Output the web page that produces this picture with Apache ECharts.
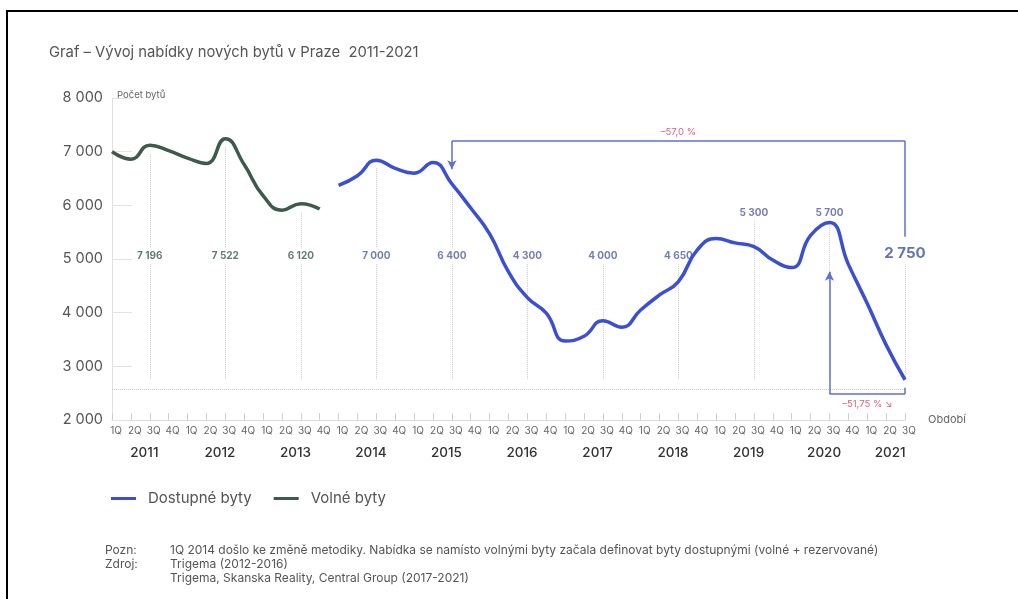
<!DOCTYPE html>
<html>
<head>
<meta charset="UTF-8">
<title>Vývoj nabídky nových bytů v Praze</title>
<script src="https://cdn.jsdelivr.net/npm/echarts@6/dist/echarts.min.js"></script>
<style>
    html, body { margin: 0; padding: 0; background: #fff; }
    #chart { width: 1018px; height: 599px; }
    .frame {
        position: absolute; left: 6px; top: 10px; width: 1012px; height: 589px;
        border-top: 2px solid #000; border-left: 2px solid #000; pointer-events: none;
    }
</style>
</head>
<body>
<div id="chart"></div>
<div class="frame"></div>
<script>
    // data
    var years = ['2011', '2012', '2013', '2014', '2015', '2016', '2017', '2018', '2019', '2020', '2021'];
    var quarterNames = ['1Q', '2Q', '3Q', '4Q'];
    var lastYearQuarters = 3;

    // Volné byty, 1Q 2011 - 4Q 2013
    var volneByty = [7000, 6860, 7120, 7020, 6880, 6780, 7240, 6760, 6180, 5910, 6030, 5930];
    // Dostupné byty, 1Q 2014 - 3Q 2021
    var dostupneByty = [6370, 6550, 6840, 6690, 6600, 6800, 6400, 5950, 5470, 4760,
        4280, 3990, 3470, 3560, 3850, 3730, 4050, 4330, 4580, 5170,
        5380, 5300, 5230, 4980, 4840, 5440, 5680, 4900, 4170, 3400, 2750];

    // values printed at each year (3Q)
    var yearValues = [7196, 7522, 6120, 7000, 6400, 4300, 4000, 4650, 5300, 5700, 2750];

    var changeTotal = '–57,0 %';
    var changeLast = '–51,75 % ↘';

    var FONT = 'Inter, "Noto Sans", sans-serif';
    var BLUE = '#3a4fd4';
    var GREEN = '#3d5b4c';
    var BRACKET = '#5c70d6';
    var PINK = '#e2607a';

    var categories = [];
    years.forEach(function (y, yi) {
        var n = yi === years.length - 1 ? lastYearQuarters : 4;
        for (var q = 0; q < n; q++) categories.push(quarterNames[q] + ' ' + y);
    });

    var firstBlue = volneByty.length;
    var blueData = categories.map(function (c, i) { return i < firstBlue ? null : dostupneByty[i - firstBlue]; });
    var greenData = categories.map(function (c, i) { return i < firstBlue ? volneByty[i] : null; });

    function fmt(v) { return String(v).replace(/\B(?=(\d{3})+(?!\d))/g, ' '); }
    function valueAt(cat) {
        var i = categories.indexOf(cat);
        return i < firstBlue ? volneByty[i] : dostupneByty[i - firstBlue];
    }
    function quartersOf(year) {
        return categories.filter(function (c) { return c.split(' ')[1] === year; }).length;
    }

    // year labels + dotted guides
    var labelItems = [];
    var guides = [];
    years.forEach(function (y, yi) {
        var cat = '3Q ' + y;
        var isGreen = categories.indexOf(cat) < firstBlue;
        var last = yi === years.length - 1;
        var upper = (y === '2019' || y === '2020');
        var row = upper ? 5860 : (last ? 5110 : 5060);
        labelItems.push({
            value: [cat, row],
            label: {
                formatter: fmt(yearValues[yi]),
                color: isGreen ? GREEN : (last ? '#3d4fa6' : '#4f5ca8'),
                fontSize: last ? 15 : 10,
                fontWeight: 'bold'
            }
        });
        var top = Math.max(valueAt(cat) - 150, row);
        guides.push([{ coord: [cat, 2760] }, { coord: [cat, top] }]);
    });
    guides.push([{ coord: [categories[0], 2580] }, { coord: [categories[categories.length - 1], 2580] }]);

    var c15 = '3Q 2015', c20 = '3Q 2020', c21 = '3Q 2021';
    var brackets = [
        [{ coord: [c21, 5415] }, { coord: [c21, 7198] }],
        [{ coord: [c15, 7198], label: { show: true, formatter: changeTotal } }, { coord: [c21, 7198] }],
        [{ coord: [c15, 7198] }, { coord: [c15, 6671], symbol: 'arrow', symbolSize: [7, 9] }],
        [{ coord: [c20, 2484] }, { coord: [c20, 4763], symbol: 'arrow', symbolSize: [7, 9] }],
        [{ coord: [c20, 2484], label: { show: true, formatter: changeLast, position: 'insideMiddleBottom', distance: 5 } }, { coord: [c21, 2484] }],
        [{ coord: [c21, 2484] }, { coord: [c21, 2600] }]
    ];

    var chart = echarts.init(document.getElementById('chart'), null, {renderer: 'canvas'});

    var option = {
        animation: false,
        backgroundColor: '#fff',
        textStyle: { fontFamily: FONT },
        title: {
            text: 'Graf – Vývoj nabídky nových bytů v Praze  2011-2021',
            left: 44, top: 40,
            textStyle: { fontFamily: FONT, fontSize: 14.8, fontWeight: 'normal', color: '#555' }
        },
        legend: {
            data: ['Dostupné byty', 'Volné byty'],
            left: 106, top: 486,
            icon: 'rect', itemWidth: 25, itemHeight: 3, itemGap: 22,
            textStyle: { fontFamily: FONT, fontSize: 15, color: '#555', padding: [0, 0, 0, 7] }
        },
        grid: { left: 112, right: 113, top: 98, bottom: 179 },
        xAxis: {
            type: 'category',
            data: categories,
            boundaryGap: false,
            name: 'Období',
            nameLocation: 'end',
            nameGap: 23,
            nameTextStyle: { fontFamily: FONT, fontSize: 11, color: '#666' },
            axisLine: { lineStyle: { color: '#dcdcdc' } },
            axisTick: { inside: true, length: 7, interval: 0, lineStyle: { color: '#cfcfcf' } },
            splitLine: { show: false },
            axisLabel: {
                interval: 0,
                margin: 4,
                padding: [0, 0, 0, 8],
                formatter: function (val) {
                    var p = val.split(' ');
                    if (p[0] === '2Q') {
                        var full = quartersOf(p[1]) === 4;
                        return '{q|' + p[0] + '}\n{' + (full ? 'y' : 'y2') + '|' + p[1] + '}';
                    }
                    return '{q|' + p[0] + '}';
                },
                rich: {
                    q: { fontFamily: FONT, fontSize: 10, color: '#666', lineHeight: 14, align: 'center' },
                    y: { fontFamily: FONT, fontSize: 13.5, fontWeight: 500, color: '#333', lineHeight: 30, align: 'center', padding: [0, 0, 0, 19] },
                    y2: { fontFamily: FONT, fontSize: 13.5, fontWeight: 500, color: '#333', lineHeight: 30, align: 'center' }
                }
            }
        },
        yAxis: {
            type: 'value',
            min: 2000, max: 8000, interval: 1000,
            name: 'Počet bytů',
            nameLocation: 'end',
            nameGap: -2,
            nameTextStyle: { fontFamily: FONT, fontSize: 9.5, color: '#666', align: 'left', padding: [0, 0, 0, 5] },
            axisLine: { show: true, lineStyle: { color: '#e0e0e0' } },
            axisTick: { show: true, inside: true, length: 20, lineStyle: { color: '#e3e3e3' } },
            splitLine: { show: false },
            axisLabel: { margin: 9, fontFamily: FONT, fontSize: 14.5, color: '#555', formatter: fmt }
        },
        series: [
            {
                name: 'guides', type: 'line', data: [], z: 1, silent: true,
                markLine: {
                    z: 1, silent: true, symbol: ['none', 'none'],
                    label: { show: false },
                    lineStyle: { type: 'dotted', color: '#cacaca', width: 1 },
                    data: guides
                }
            },
            {
                name: 'labels', type: 'scatter', z: 3, silent: true,
                symbolSize: 1,
                itemStyle: { color: 'transparent' },
                label: {
                    show: true, position: 'inside', fontFamily: FONT,
                    backgroundColor: '#fff', padding: [3, 4]
                },
                data: labelItems
            },
            {
                name: 'Dostupné byty', type: 'line', data: blueData, z: 4,
                smooth: 0.5, symbol: 'none', showSymbol: false,
                color: BLUE, lineStyle: { color: BLUE, width: 3.5 }
            },
            {
                name: 'Volné byty', type: 'line', data: greenData, z: 4,
                smooth: 0.5, symbol: 'none', showSymbol: false,
                color: GREEN, lineStyle: { color: GREEN, width: 3.5 }
            },
            {
                name: 'brackets', type: 'line', data: [], z: 5, silent: true,
                markLine: {
                    z: 5, silent: true, symbol: ['none', 'none'],
                    lineStyle: { type: 'solid', color: BRACKET, width: 1.5 },
                    itemStyle: { color: BRACKET },
                    label: { show: false, position: 'middle', color: PINK, fontSize: 9.5, fontFamily: FONT, distance: 4 },
                    data: brackets
                }
            }
        ],
        graphic: [
            { type: 'text', left: 105, top: 543, style: { text: 'Pozn:\nZdroj:', font: '12px ' + FONT, fill: '#555', lineHeight: 14 } },
            { type: 'text', left: 170, top: 543, style: {
                text: '1Q 2014 došlo ke změně metodiky. Nabídka se namísto volnými byty začala definovat byty dostupnými (volné + rezervované)\nTrigema (2012-2016)\nTrigema, Skanska Reality, Central Group (2017-2021)',
                font: '12px ' + FONT, fill: '#555', lineHeight: 14 } }
        ]
    };

    chart.setOption(option);
</script>
</body>
</html>
